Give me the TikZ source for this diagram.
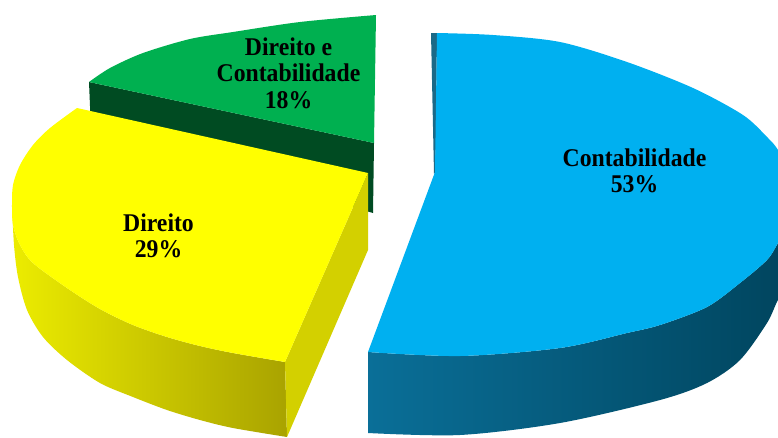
\documentclass[tikz,border=0pt]{standalone}
\usepackage{fontspec}
\setmainfont{Liberation Serif}[FakeStretch=0.93]
\definecolor{bluetop}{HTML}{00B0F0}
\definecolor{blueside1}{HTML}{0A6F98}
\definecolor{blueside2}{HTML}{004A66}
\definecolor{blueside3}{HTML}{00445D}
\definecolor{bluecut}{HTML}{1B6987}
\definecolor{yeltop}{HTML}{FFFF00}
\definecolor{yelside1}{HTML}{ECEC00}
\definecolor{yelside2}{HTML}{A9A300}
\definecolor{yelcut}{HTML}{D3D000}
\definecolor{grntop}{HTML}{00B050}
\definecolor{grnside}{HTML}{004B22}
\begin{document}
\begin{tikzpicture}[x=1pt,y=-1pt,
  lbl/.style={font=\fontsize{25.5}{26.5}\selectfont\bfseries, align=center, inner sep=0pt, text=black}]
\useasboundingbox (0,0) rectangle (778,437);
\clip (0,0) rectangle (778,437);
% ---- green slice (Direito e Contabilidade) ----
\fill[grnside] (89,82) -- (374,143) -- (373,213) -- (91,130) -- cycle;
\fill[grntop] (376,15) -- (374,143) -- (89,82)
  -- plot[smooth] coordinates {(89,82) (110,68) (143,53) (190,39) (233,32) (300,22) (376,15)} -- cycle;
% ---- yellow slice (Direito) ----
\shade[left color=yelside1, right color=yelside2] (12,205)
  -- plot[smooth] coordinates {(12,205) (13,225) (20,245) (33,263) (67,288) (100,309) (133,325) (167,337) (200,346) (233,353) (285,362)}
  -- (287,437)
  -- plot[smooth] coordinates {(287,437) (233,428) (200,420) (167,410) (133,397) (100,383) (67,360) (43,337) (27,310) (18,277) (14,245) (12,205)} -- cycle;
\fill[yelcut] (368,173) -- (285,362) -- (287,437) -- (368,250) -- cycle;
\fill[yeltop] (368,173) -- (285,362)
  -- plot[smooth] coordinates {(285,362) (233,353) (200,346) (167,337) (133,325) (100,309) (67,288) (33,263) (20,245) (13,225) (12,205) (13,185) (20,165) (33,145) (50,128) (77,108)} -- cycle;
% ---- blue slice (Contabilidade) ----
\shade[left color=blueside1, middle color=blueside2, right color=blueside3] (368,352)
  -- plot[smooth] coordinates {(368,352) (460,356) (560,348) (627,333) (660,325) (707,307) (740,283) (767,260) (778,243) (790,222)}
  -- (795,222) -- (795,280)
  -- plot[smooth] coordinates {(790,285) (778,300) (767,323) (740,360) (707,383) (660,400) (560,423) (460,435) (368,433)} -- cycle;
\fill[bluecut] (431,33) -- (437,33) -- (435.5,172) -- (434,174) -- cycle;
\fill[bluetop] (437,33)
  -- plot[smooth] coordinates {(437,33) (493,35) (560,42) (627,62) (693,88) (743,115) (767,137) (778,150) (790,175)}
  -- (800,175) -- (800,222)
  -- plot[smooth] coordinates {(790,222) (778,243) (767,260) (740,283) (707,307) (660,325) (627,333) (560,348) (460,356) (368,352)}
  -- (435,172) -- cycle;
% ---- labels ----
\node[lbl] (lg) at (288.5,73) {Direito e\\Contabilidade\\18\%};
\node[lbl] (ly) at (158.5,236) {Direito\\29\%};
\node[lbl] (lb) at (634.5,171) {Contabilidade\\53\%};
\end{tikzpicture}
\end{document}
